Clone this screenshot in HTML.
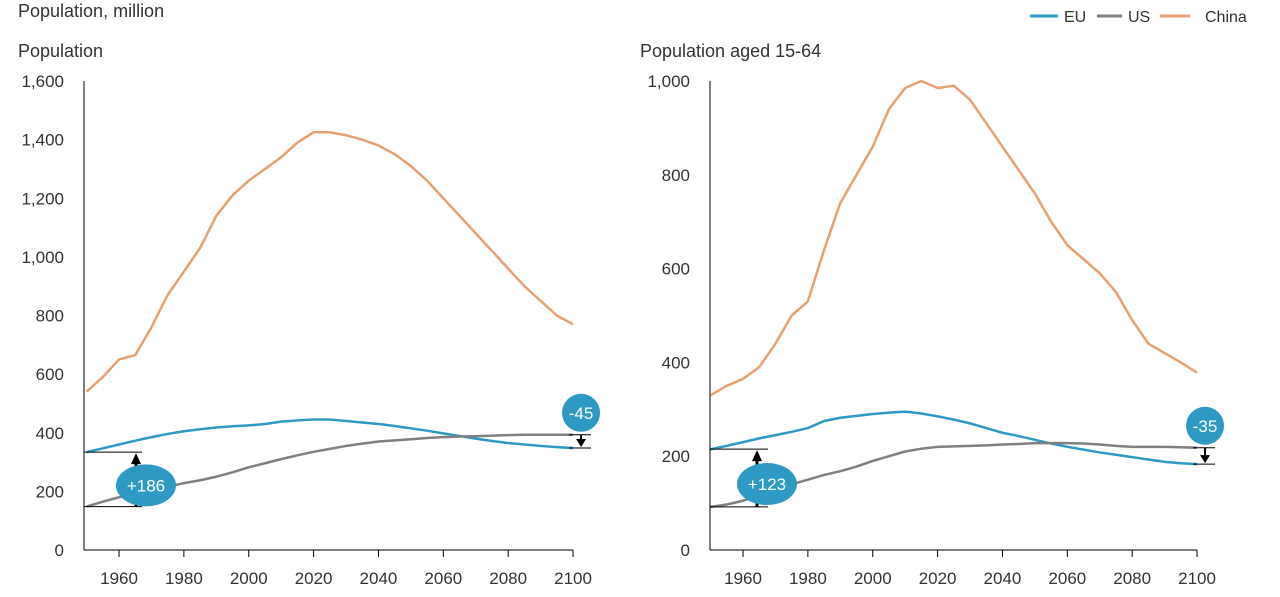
<!DOCTYPE html>
<html><head><meta charset="utf-8"><style>
body{margin:0;background:#fff;font-family:"Liberation Sans",sans-serif;}
svg text{font-family:"Liberation Sans",sans-serif;fill:#333;}
</style></head><body>
<svg id="c" width="1280" height="592" xmlns="http://www.w3.org/2000/svg">
<text x="18" y="17" font-size="18">Population, million</text>
<text x="18" y="57" font-size="18">Population</text>
<text x="640" y="57" font-size="18">Population aged 15-64</text>
<g>
<line x1="1030" y1="16" x2="1058" y2="16" stroke="#2e9ac4" stroke-width="3"/><text x="1064" y="22" font-size="16">EU</text>
<line x1="1097" y1="16" x2="1122" y2="16" stroke="#808080" stroke-width="3"/><text x="1128" y="22" font-size="16">US</text>
<line x1="1160" y1="16" x2="1190" y2="16" stroke="#e8a070" stroke-width="3"/><text x="1205" y="22" font-size="16">China</text>
</g>
<g id="L"></g><g id="R"></g>
</svg>
<script>
const years=[1950,1955,1960,1965,1970,1975,1980,1985,1990,1995,2000,2005,2010,2015,2020,2025,2030,2035,2040,2045,2050,2055,2060,2065,2070,2075,2080,2085,2090,2095,2100];
const popChina=[540,590,650,665,760,870,950,1030,1140,1210,1260,1300,1340,1390,1425,1425,1415,1400,1380,1350,1310,1260,1200,1140,1080,1020,960,900,850,800,770];
const popEU=[334,347,360,373,385,396,405,412,418,422,425,430,438,442,445,445,440,435,430,423,415,407,398,389,380,372,365,360,355,351,348];
const popUS=[148,165,180,193,205,216,228,238,250,265,282,296,310,323,335,345,355,363,370,374,378,382,385,387,388,390,392,393,393,393,393];
const wrkChina=[330,350,365,390,440,500,530,640,740,800,860,940,985,1000,985,990,960,910,860,810,760,700,650,620,590,550,490,440,420,400,378];
const wrkEU=[215,222,230,238,245,252,260,275,282,286,290,293,295,291,285,278,270,260,250,243,235,227,220,214,208,203,198,193,188,185,183];
const wrkUS=[92,97,105,117,130,140,150,160,168,178,190,200,210,216,220,221,222,223,225,226,228,228,228,227,225,222,220,220,220,219,218];
const leftTicks=[0,200,400,600,800,1000,1200,1400,1600];
const rightTicks=[0,200,400,600,800,1000];
const xTicks=[1960,1980,2000,2020,2040,2060,2080,2100];
const NS="http://www.w3.org/2000/svg";
function el(p,t,a){const e=document.createElementNS(NS,t);for(const k in a)e.setAttribute(k,a[k]);p.appendChild(e);return e;}
function panel(g,x0,axisX,yMax,ticks,series,ann){
  const xs=y=>x0+(y-1950)*64.86/20;
  const ys=v=>550-v*469/yMax;
  const ax=el(g,'line',{x1:axisX,y1:81,x2:axisX,y2:550,stroke:'#000'});
  
  
  const bx=el(g,'line',{x1:axisX,y1:550,x2:xs(2100),y2:550,stroke:'#000'});
  
  
  ticks.forEach(t=>{const tx=el(g,'text',{x:axisX-20,y:ys(t)+6,'font-size':17,'text-anchor':'end'});tx.textContent=t.toLocaleString('en-US');
    
    });
  xTicks.forEach(t=>{el(g,'line',{x1:xs(t),y1:550,x2:xs(t),y2:557,stroke:'#000'});
    const tx=el(g,'text',{x:xs(t),y:584,'font-size':17,'text-anchor':'middle'});tx.textContent=t;
    
    });
  series.forEach(s=>{const p=el(g,'polyline',{points:years.map((y,i)=>xs(y)+','+ys(s.v[i])).join(' '),fill:'none',stroke:s.c,'stroke-width':2.5,'stroke-linejoin':'round'});
    
    });
  const eu=series[1].v,us=series[2].v,n=years.length-1;
  const a1=ys(eu[0]),b1=ys(us[0]);
  el(g,'line',{x1:axisX,y1:a1,x2:axisX+58,y2:a1,stroke:'#000'});
  el(g,'line',{x1:axisX,y1:b1,x2:axisX+58,y2:b1,stroke:'#000'});
  el(g,'line',{x1:ann.ax,y1:b1,x2:ann.ax,y2:a1+10,stroke:'#000','stroke-width':3});
  el(g,'polygon',{points:`${ann.ax-5},${a1+12} ${ann.ax+5},${a1+12} ${ann.ax},${a1+1}`,fill:'#000'});
  const e1=el(g,'ellipse',{cx:ann.ax+10,cy:(a1+b1)/2+6,rx:30,ry:21,fill:'#2e9ac4'});
  
  
  const t1=el(g,'text',{x:ann.ax+10,y:(a1+b1)/2+12,'font-size':17,'text-anchor':'middle',style:'fill:#fff'});t1.textContent='+'+Math.round(eu[0]-us[0]);
  const a2=ys(us[n]),b2=ys(eu[n]),ex=xs(2100);
  el(g,'line',{x1:ex-4,y1:a2,x2:ex+18,y2:a2,stroke:'#000'});
  el(g,'line',{x1:ex-4,y1:b2,x2:ex+18,y2:b2,stroke:'#000'});
  el(g,'line',{x1:ex+8,y1:a2,x2:ex+8,y2:b2-6,stroke:'#000','stroke-width':2});
  el(g,'polygon',{points:`${ex+3},${b2-9} ${ex+13},${b2-9} ${ex+8},${b2-1}`,fill:'#000'});
  const e2=el(g,'circle',{cx:ex+8,cy:a2-22,r:19,fill:'#2e9ac4'});
  
  
  const t2=el(g,'text',{x:ex+8,y:a2-16,'font-size':17,'text-anchor':'middle',style:'fill:#fff'});t2.textContent='-'+Math.round(us[n]-eu[n]);
}
panel(document.getElementById('L'),86.6,84,1600,leftTicks,[{v:popChina,c:'#e8a070',n:'china-population-line'},{v:popEU,c:'#2e9ac4',n:'eu-population-line'},{v:popUS,c:'#808080',n:'us-population-line'}],{ax:136});
panel(document.getElementById('R'),710.6,710,1000,rightTicks,[{v:wrkChina,c:'#e8a070',n:'china-working-age-line'},{v:wrkEU,c:'#2e9ac4',n:'eu-working-age-line'},{v:wrkUS,c:'#808080',n:'us-working-age-line'}],{ax:757});
</script>
</body></html>
